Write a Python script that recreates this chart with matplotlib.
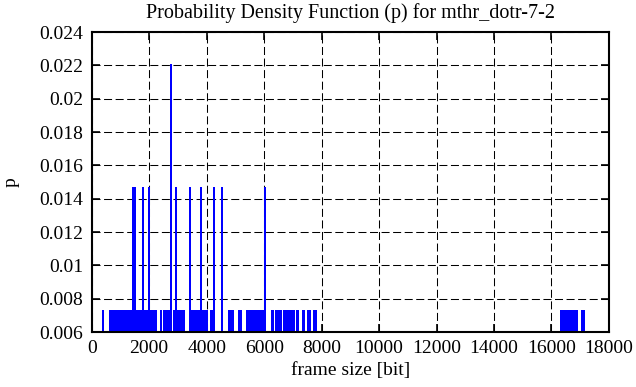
import matplotlib.pyplot as plt
import numpy as np

# frame sizes [bit] seen once, twice and three times (p = count / 136)
sizes_once = [403,
              620, 668, 712, 760, 801, 850, 893, 940, 985, 1030, 1072, 1118, 1165,
              1208, 1250, 1296, 1340, 1384, 1470, 1560, 1608, 1650, 1696, 1740,
              1830, 1872, 1920, 2040, 2088, 2130, 2160, 2220, 2394, 2499,
              2551, 2595, 2640, 2685, 2715, 2850, 2895, 3005, 3050, 3100, 3150, 3200,
              3490, 3543, 3612, 3665, 3734, 3856, 3898, 3950, 4012, 4141, 4186,
              4778, 4830, 4907, 5130, 5190, 5410, 5470, 5500, 5545, 5590, 5635,
              5720, 5765, 5810, 5850, 5905, 5950, 6265, 6320, 6405, 6460, 6530,
              6585, 6685, 6750, 6845, 6900, 6985, 7030, 7135, 7190, 7345, 7385,
              7540, 7595, 7750, 7800,
              16332, 16391, 16412, 16470, 16530, 16590, 16650, 16704, 16725,
              16784, 16843, 16899, 17062, 17132]
sizes_twice = [1430, 1515, 1785, 2000, 2940, 3420, 3800, 4250, 4520, 6030]
sizes_thrice = [2760]
p_once = 0.00735
p_twice = 0.0147
p_thrice = 0.0221

xticks = np.arange(0, 18001, 2000)
yticks = [0.006, 0.008, 0.01, 0.012, 0.014, 0.016, 0.018, 0.02, 0.022, 0.024]
ytick_labels = ["0.006", "0.008", "0.01", "0.012", "0.014", "0.016", "0.018", "0.02", "0.022", "0.024"]

plt.rcParams['font.family'] = ['Liberation Serif', 'DejaVu Serif']
plt.rcParams['font.size'] = 14

fig = plt.figure(figsize=(6.36, 3.87), dpi=100)
ax = fig.add_axes([0.1442, 0.1421, 0.8133, 0.7752])

blue = (0, 0, 1)
for xs, p in [(sizes_once, p_once), (sizes_twice, p_twice), (sizes_thrice, p_thrice)]:
    ax.vlines(xs, 0, p, color=blue, lw=1.3, antialiased=False)

ax.set_xlim(0, 18000)
ax.set_ylim(0.006, 0.024)
ax.set_xticks(xticks)
ax.set_yticks(yticks)
ax.set_yticklabels(ytick_labels)
ax.grid(True, color='black', linestyle=(0, (7.7, 3.4)), lw=0.75)
ax.set_axisbelow(True)
ax.tick_params(direction='in', length=6, width=1.2, top=True, right=True, pad=6)
for s in ax.spines.values():
    s.set_linewidth(1.5)

ax.set_title("Probability Density Function (p) for mthr_dotr-7-2", fontsize=14.5, pad=10)
ax.set_xlabel("frame size [bit]", fontsize=14, labelpad=3)
ax.set_ylabel("p", fontsize=14, labelpad=14)

plt.savefig("out.png", dpi=100)
